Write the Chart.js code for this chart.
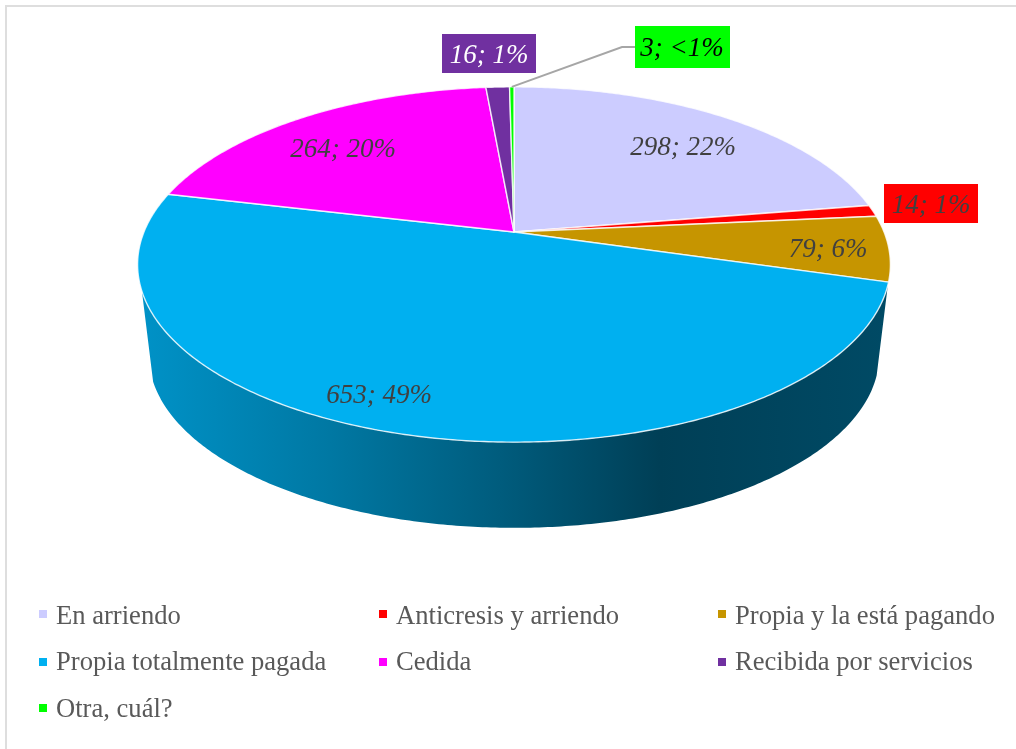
<!DOCTYPE html>
<html>
<head>
    <meta charset="utf-8">
    <title>Tenencia de la vivienda</title>
    <script src="https://cdn.jsdelivr.net/npm/chart.js"></script>
    <style>
        html, body { margin: 0; padding: 0; background: white; }
        #frame { position: absolute; left: 5px; top: 5px; width: 1011px; height: 744px; border-top: 2px solid #dedede; border-left: 2px solid #dedede; box-sizing: border-box; }
        canvas { position: absolute; left: 0; top: 0; }
        .legend-item { position: absolute; font: 26.6px "Liberation Serif", serif; color: #595959; line-height: 30px; white-space: nowrap; }
        .legend-item i { position: absolute; left: -17px; width: 8px; height: 8px; }
    </style>
</head>
<body>
    <div id="frame"></div>
    <canvas id="pie" width="1016" height="749"></canvas>
    <div id="legend"></div>
    <script>
        const categories = ['En arriendo', 'Anticresis y arriendo', 'Propia y la está pagando', 'Propia totalmente pagada', 'Cedida', 'Recibida por servicios', 'Otra, cuál?'];
        const values = [298, 14, 79, 653, 264, 16, 3];
        const percentLabels = ['22%', '1%', '6%', '49%', '20%', '1%', '<1%'];
        const colors = ['#CCCCFF', '#FF0000', '#C69500', '#00B0F0', '#FF00FF', '#7030A0', '#00FF00'];

        // etiquetas colocadas a mano, como en el original
        const labelCenters = [[683, 148], [931, 206], [828, 250], [379, 396], [343, 150], [489, 56], [682, 49]];
        const labelBoxes = [null, [884, 184, 94, 39], null, null, null, [442, 34, 94, 39], [635, 26, 95, 42]];
        const labelColors = ['#404040', '#404040', '#404040', '#404040', '#404040', '#FFFFFF', '#000000'];
        // x, y del texto y desplazamiento del cuadrito
        const legendRows = [[56, 600, 10], [396, 600, 10], [735, 600, 10], [56, 646, 12], [396, 646, 12], [735, 646, 12], [56, 693, 11]];

        // perspectiva de la tapa y del borde inferior
        const SX = 1.595, SY = 0.74, PERSP = 0.183;
        const BOTTOM_SCALE = 0.97, DEPTH = 92;
        const SIDE_FROM = 17 * Math.PI / 180, SIDE_TO = 161 * Math.PI / 180; // angulos de la silueta lateral
        const sideShade = [[140, 0.83], [330, 0.68], [500, 0.52], [660, 0.36], [885, 0.42]];

        function project(el, angle, scale, drop) {
            const u = Math.cos(angle), v = Math.sin(angle);
            const w = 1 - PERSP * v;
            return [el.x + scale * SX * el.outerRadius * u / w, el.y + drop + scale * SY * el.outerRadius * v / w];
        }

        function rimPoints(el, from, to, scale, drop) {
            const steps = Math.max(2, Math.ceil((to - from) / 0.01));
            const pts = [];
            for (let i = 0; i <= steps; i++) pts.push(project(el, from + (to - from) * i / steps, scale, drop));
            return pts;
        }

        function shaded(ctx, hex) {
            const r = parseInt(hex.slice(1, 3), 16), g = parseInt(hex.slice(3, 5), 16), b = parseInt(hex.slice(5, 7), 16);
            const grad = ctx.createLinearGradient(sideShade[0][0], 0, sideShade[sideShade.length - 1][0], 0);
            const span = sideShade[sideShade.length - 1][0] - sideShade[0][0];
            sideShade.forEach(s => {
                grad.addColorStop((s[0] - sideShade[0][0]) / span, `rgb(${r * s[1]},${g * s[1]},${b * s[1]})`);
            });
            return grad;
        }

        class PerspectiveArc extends Chart.ArcElement {
            draw(ctx) {
                const pts = rimPoints(this, this.startAngle, this.endAngle, 1, 0);
                ctx.save();
                ctx.beginPath();
                ctx.moveTo(this.x, this.y);
                pts.forEach(p => ctx.lineTo(p[0], p[1]));
                ctx.closePath();
                ctx.fillStyle = this.options.backgroundColor;
                ctx.fill();
                ctx.strokeStyle = 'rgba(255,255,255,0.8)';
                ctx.lineWidth = 1.4;
                ctx.lineJoin = 'round';
                ctx.stroke();
                ctx.restore();
            }
        }
        PerspectiveArc.id = 'perspectiveArc';

        class Pie3dController extends Chart.PieController {
            draw() {
                const ctx = this.chart.ctx;
                // primero los lados, la tapa va encima
                this._cachedMeta.data.forEach(el => {
                    const from = Math.max(el.startAngle, SIDE_FROM), to = Math.min(el.endAngle, SIDE_TO);
                    if (to <= from) return;
                    const top = rimPoints(el, from, to, 1, 0);
                    const bottom = rimPoints(el, from, to, BOTTOM_SCALE, DEPTH).reverse();
                    ctx.beginPath();
                    top.concat(bottom).forEach((p, i) => i ? ctx.lineTo(p[0], p[1]) : ctx.moveTo(p[0], p[1]));
                    ctx.closePath();
                    ctx.fillStyle = shaded(ctx, el.options.backgroundColor);
                    ctx.fill();
                });
                super.draw();
            }
        }
        Pie3dController.id = 'pie3d';
        Pie3dController.defaults = { dataElementType: 'perspectiveArc' };

        Chart.register(PerspectiveArc, Pie3dController);

        const dataLabels = {
            id: 'dataLabels',
            afterDatasetsDraw(chart) {
                const ctx = chart.ctx;
                ctx.save();
                // linea guia de la porcion mas pequena
                const el = chart.getDatasetMeta(0).data[6];
                const start = project(el, (el.startAngle + el.endAngle) / 2, 1, 0);
                ctx.strokeStyle = '#A6A6A6';
                ctx.lineWidth = 2;
                ctx.beginPath();
                ctx.moveTo(start[0], start[1]);
                ctx.lineTo(622, 47);
                ctx.lineTo(635, 47);
                ctx.stroke();

                ctx.font = 'italic 27px "Liberation Serif", serif';
                ctx.textAlign = 'center';
                ctx.textBaseline = 'middle';
                values.forEach((v, i) => {
                    const box = labelBoxes[i];
                    if (box) {
                        ctx.fillStyle = colors[i];
                        ctx.fillRect(box[0], box[1], box[2], box[3]);
                    }
                    ctx.fillStyle = labelColors[i];
                    ctx.fillText(`${v}; ${percentLabels[i]}`, labelCenters[i][0], labelCenters[i][1]);
                });
                ctx.restore();
            }
        };

        new Chart(document.getElementById('pie').getContext('2d'), {
            type: 'pie3d',
            data: {
                labels: categories,
                datasets: [{ data: values, backgroundColor: colors, borderWidth: 0 }]
            },
            options: {
                responsive: false,
                animation: false,
                events: [],
                layout: { padding: { left: 12, right: 0, top: 0, bottom: 285 } },
                plugins: { legend: { display: false }, tooltip: { enabled: false } }
            },
            plugins: [dataLabels]
        });

        // leyenda en tres columnas
        document.getElementById('legend').innerHTML = categories.map((c, i) =>
            `<div class="legend-item" style="left:${legendRows[i][0]}px;top:${legendRows[i][1]}px"><i style="top:${legendRows[i][2]}px;background:${colors[i]}"></i>${c}</div>`
        ).join('');
    </script>
</body>
</html>
